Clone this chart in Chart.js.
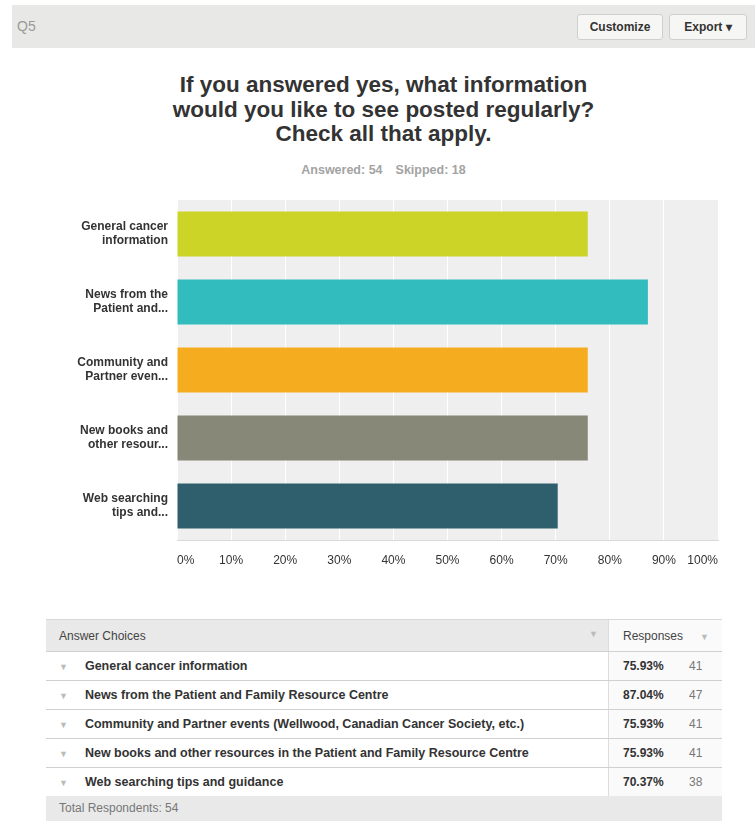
<!DOCTYPE html>
<html>
<head>
<meta charset="utf-8">
<script src="https://cdn.jsdelivr.net/npm/chart.js@4.4.1/dist/chart.umd.min.js"></script>
<style>
  html, body { margin:0; padding:0; background:#fff; }
  body { width:755px; height:821px; position:relative; overflow:hidden; font-family:"Liberation Sans", Arial, sans-serif; }
  #hdr { position:absolute; left:12px; top:5px; width:743px; height:43px; background:#e8e8e6; }
  #q { position:absolute; left:5px; top:13px; font-size:14px; color:#9a9a9a; }
  .btn { position:absolute; top:9px; height:24px; line-height:24px; border:1px solid #cfcfcf; border-radius:3px; background:#f6f6f4; font-size:12px; font-weight:bold; color:#333; text-align:center; box-sizing:content-box; }
  #title { position:absolute; left:12px; top:73px; width:743px; text-align:center; font-size:22.5px; font-weight:bold; color:#333; line-height:24.5px; }
  #sub { position:absolute; left:12px; top:163px; width:743px; text-align:center; font-size:12.5px; font-weight:bold; color:#a3a3a3; }
  #cwrap { position:absolute; left:0; top:190px; width:755px; height:390px; }
  table { position:absolute; left:46px; top:619px; width:676px; border-collapse:collapse; font-size:12px; }
  td, th { padding:0; height:28px; border-bottom:1px solid #d0d0d0; }
  th { background:#e9e9e9; font-weight:normal; color:#444; text-align:left; height:31px; border-top:1px solid #d8d8d8; }
  .arr { color:#bbb; font-size:9px; }
  .c1 { padding-left:13px; }
  .c2 { width:113px; border-left:1px solid #ddd; background:#fafafa; }
  td.lab { font-weight:bold; color:#333; font-size:12.5px; }
  .pct { font-weight:bold; color:#333; display:inline-block; width:66px; padding-left:14px; }
  .cnt { color:#777; }
  #tot { position:absolute; left:46px; top:796px; width:676px; height:25px; background:#e9e9e9; font-size:12px; color:#777; line-height:24px; padding-left:13px; box-sizing:border-box; }
</style>
</head>
<body>
<div id="hdr">
  <div id="q">Q5</div>
  <div class="btn" style="left:565px;width:84px;">Customize</div>
  <div class="btn" style="left:657px;width:76px;">Export &#9662;</div>
</div>
<div id="title">If you answered yes, what information<br>would you like to see posted regularly?<br>Check all that apply.</div>
<div id="sub">Answered: 54<span style="margin-left:13px">Skipped: 18</span></div>
<div id="cwrap"><canvas id="c"></canvas></div>
<table id="tbl"></table>
<div id="tot">Total Respondents: 54</div>
<script>
const axisLabels = [
  ["General cancer", "information"],
  ["News from the", "Patient and..."],
  ["Community and", "Partner even..."],
  ["New books and", "other resour..."],
  ["Web searching", "tips and..."]
];
const choices = [
  "General cancer information",
  "News from the Patient and Family Resource Centre",
  "Community and Partner events (Wellwood, Canadian Cancer Society, etc.)",
  "New books and other resources in the Patient and Family Resource Centre",
  "Web searching tips and guidance"
];
const percents = [75.93, 87.04, 75.93, 75.93, 70.37];
const counts = [41, 47, 41, 41, 38];
const barColors = ["#cdd428", "#33bcbe", "#f5ad1f", "#878878", "#2f5e6c"];

// table
const tbl = document.getElementById('tbl');
let html = '<tr><th class="c1">Answer Choices<span class="arr" style="float:right;margin-right:10px">&#9660;</span></th>' +
  '<th class="c2"><span style="padding-left:14px">Responses</span><span class="arr" style="margin-left:17px">&#9660;</span></th></tr>';
for (let i = 0; i < choices.length; i++) {
  html += '<tr><td class="c1 lab"><span class="arr" style="margin-right:17px">&#9660;</span>' + choices[i] + '</td>' +
    '<td class="c2"><span class="pct">' + percents[i].toFixed(2) + '%</span><span class="cnt">' + counts[i] + '</span></td></tr>';
}
tbl.innerHTML = html;

const bgPlugin = {
  id: 'plotbg',
  beforeDraw(chart) {
    const a = chart.chartArea, ctx = chart.ctx;
    ctx.save();
    ctx.fillStyle = '#efefef';
    ctx.fillRect(a.left, a.top, a.right - a.left, a.bottom - a.top);
    ctx.restore();
  }
};

new Chart(document.getElementById('c'), {
  type: 'bar',
  data: {
    labels: axisLabels,
    datasets: [{
      data: percents,
      backgroundColor: barColors,
      borderWidth: 0,
      barPercentage: 0.66,
      categoryPercentage: 1.0
    }]
  },
  plugins: [bgPlugin],
  options: {
    indexAxis: 'y',
    responsive: true,
    maintainAspectRatio: false,
    animation: false,
    layout: { padding: { top: 10, right: 37, left: 0, bottom: 0 } },
    plugins: { legend: { display: false }, tooltip: { enabled: false } },
    scales: {
      x: {
        min: 0, max: 100,
        afterFit(s) { s.height = 40; s.paddingLeft = 0; s.paddingRight = 0; },
        grid: { color: '#ffffff', lineWidth: 1, drawTicks: false },
        border: { display: true, color: '#d9d9d9', width: 1 },
        ticks: {
          stepSize: 10,
          align: 'inner',
          padding: 13,
          color: '#333',
          font: { family: '"Liberation Sans", Arial, sans-serif', size: 12 },
          callback: v => v + '%'
        }
      },
      y: {
        afterFit(s) { s.width = 177; s.paddingTop = 0; s.paddingBottom = 0; },
        grid: { display: false, drawTicks: false },
        border: { display: false },
        ticks: {
          padding: 9,
          color: '#333',
          font: { family: '"Liberation Sans", Arial, sans-serif', size: 12, weight: 'bold', lineHeight: 1.17 }
        }
      }
    }
  }
});
</script>
</body>
</html>
